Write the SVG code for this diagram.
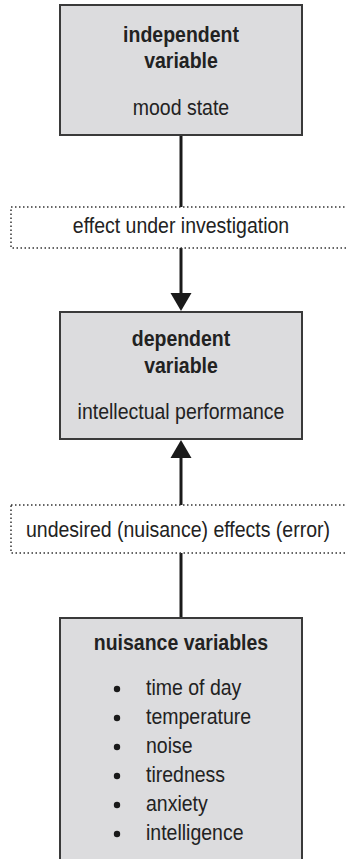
<svg xmlns="http://www.w3.org/2000/svg" width="347" height="859" viewBox="0 0 347 859">
  <style>
    .box { fill: #dcdcde; stroke: #3a3a3a; stroke-width: 2; }
    .dotbox { fill: #ffffff; stroke: #333333; stroke-width: 1.5; stroke-dasharray: 1.5 2.5; }
    .link { stroke: #1a1a1a; stroke-width: 3; fill: none; }
    .head { fill: #1a1a1a; }
    text { font-family: "Liberation Sans", Arial, sans-serif; font-size: 19.5px; fill: #222222; }
    .c { text-anchor: middle; }
    .b { font-weight: bold; }
    .dot { fill: #1a1a1a; }
  </style>
  <rect width="347" height="859" fill="#ffffff"/>

  <g id="connectors">
    <line class="link" x1="181" y1="135" x2="181" y2="207"/>
    <line class="link" x1="181" y1="248" x2="181" y2="294"/>
    <polygon class="head" points="170.5,293 191.5,293 181,311"/>
    <line class="link" x1="181" y1="553" x2="181" y2="617"/>
    <line class="link" x1="181" y1="505" x2="181" y2="458"/>
    <polygon class="head" points="170.5,458 191.5,458 181,440"/>
  </g>

  <!-- text is set in slightly tall glyphs: scale(1,1.12) about each baseline -->
  <g id="independent">
    <rect class="box" x="60" y="5" width="242" height="130"/>
    <text class="c b" transform="translate(181,42) scale(1,1.12)">independent</text>
    <text class="c b" transform="translate(181,68) scale(1,1.12)">variable</text>
    <text class="c" transform="translate(181,115) scale(1,1.12)">mood state</text>
  </g>

  <g id="effect">
    <rect class="dotbox" x="11" y="207" width="345" height="41"/>
    <text class="c" transform="translate(181,233) scale(1,1.12)">effect under investigation</text>
  </g>

  <g id="dependent">
    <rect class="box" x="60" y="312" width="242" height="127"/>
    <text class="c b" transform="translate(181,346) scale(1,1.12)">dependent</text>
    <text class="c b" transform="translate(181,373) scale(1,1.12)">variable</text>
    <text class="c" transform="translate(181,419) scale(1,1.12)">intellectual performance</text>
  </g>

  <g id="nuisance-effects">
    <rect class="dotbox" x="11" y="505" width="345" height="48"/>
    <text class="c" transform="translate(178,537) scale(1,1.12)">undesired (nuisance) effects (error)</text>
  </g>

  <g id="nuisance">
    <rect class="box" x="60" y="618" width="242" height="260"/>
    <text class="c b" transform="translate(181,650) scale(1,1.12)">nuisance variables</text>
    <g id="bullets">
      <circle class="dot" cx="117" cy="689" r="3.2"/>
      <circle class="dot" cx="117" cy="718" r="3.2"/>
      <circle class="dot" cx="117" cy="747" r="3.2"/>
      <circle class="dot" cx="117" cy="776" r="3.2"/>
      <circle class="dot" cx="117" cy="805" r="3.2"/>
      <circle class="dot" cx="117" cy="834" r="3.2"/>
    </g>
    <text transform="translate(146,695) scale(1,1.12)">time of day</text>
    <text transform="translate(146,724) scale(1,1.12)">temperature</text>
    <text transform="translate(146,753) scale(1,1.12)">noise</text>
    <text transform="translate(146,782) scale(1,1.12)">tiredness</text>
    <text transform="translate(146,811) scale(1,1.12)">anxiety</text>
    <text transform="translate(146,840) scale(1,1.12)">intelligence</text>
  </g>
</svg>
